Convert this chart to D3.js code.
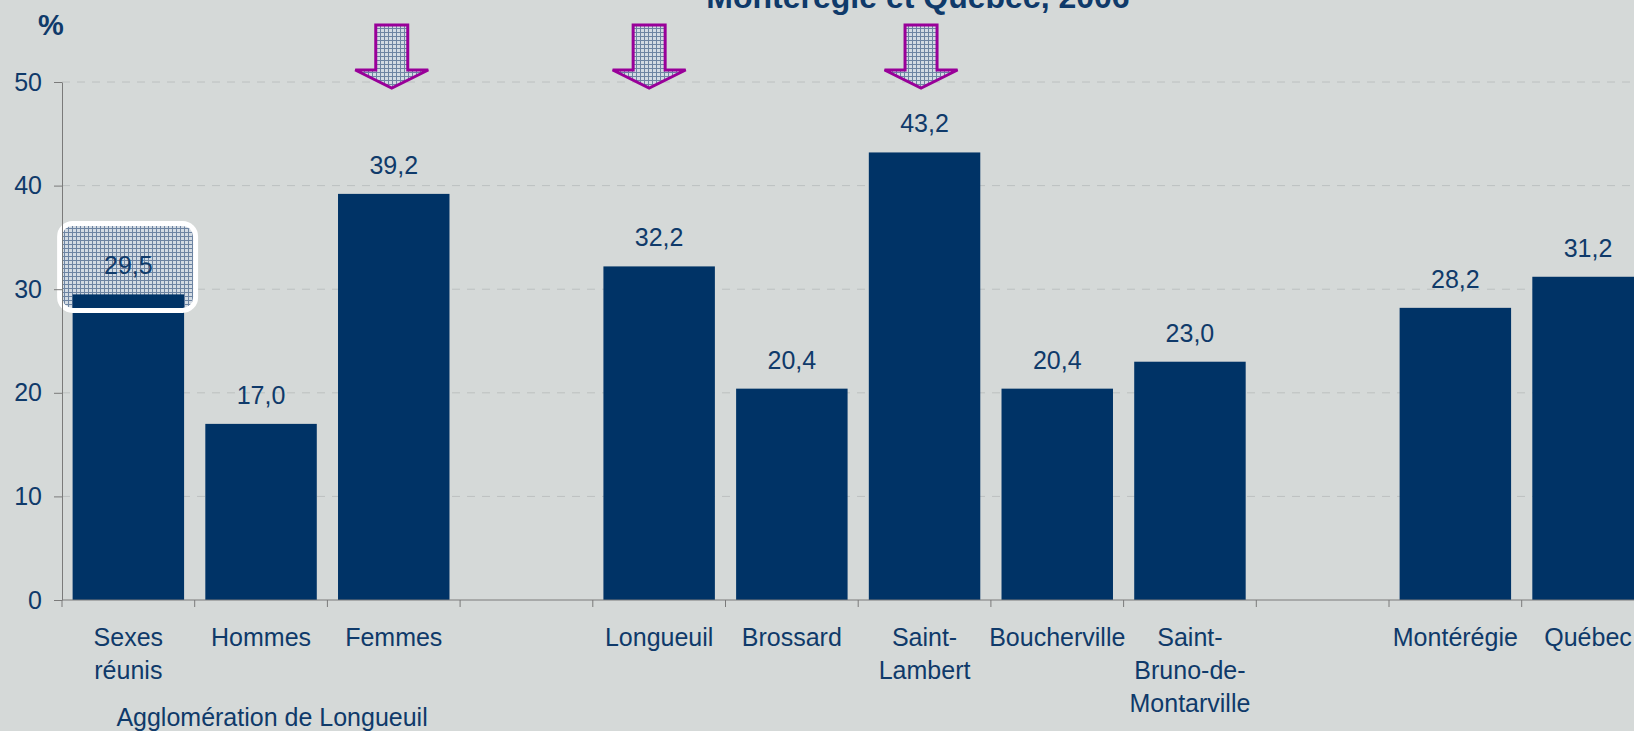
<!DOCTYPE html>
<html>
<head>
<meta charset="utf-8">
<script src="https://cdn.jsdelivr.net/npm/d3@7"></script>
<style>
  html, body { margin: 0; padding: 0; background: #d5d9d8; }
  svg { display: block; }
  text { font-family: Arial, "Liberation Sans", sans-serif; fill: #0f3a6a; }
</style>
</head>
<body>
<div id="container"></div>
<script>
// data
var categories = ["Sexes\nréunis", "Hommes", "Femmes", "", "Longueuil", "Brossard", "Saint-\nLambert",
                  "Boucherville", "Saint-\nBruno-de-\nMontarville", "", "Montérégie", "Québec"]
var values = [29.5, 17.0, 39.2, null, 32.2, 20.4, 43.2, 20.4, 23.0, null, 28.2, 31.2]
var yTicks = [0, 10, 20, 30, 40, 50]
var groupLabel = "Agglomération de Longueuil"
var titleText = "Montérégie et Québec, 2006"
var arrowTargets = [2, 4, 6]   // index of the bars with an arrow
var highlighted = 0            // bar with the rounded box

var width = 1634
var height = 731

var svg = d3.select("#container")
    .append("svg")
    .attr("width", width)
    .attr("height", height)

svg.append("rect").attr("width", width).attr("height", height).attr("fill", "#d5d9d8")

// hatch pattern for the arrows and the box
var defs = svg.append("defs")
var pat = defs.append("pattern")
    .attr("id", "hatch")
    .attr("width", 4).attr("height", 4)
    .attr("patternUnits", "userSpaceOnUse")
pat.append("rect").attr("width", 4).attr("height", 4).attr("fill", "#d3dbe3")
pat.append("rect").attr("width", 4).attr("height", 1).attr("fill", "#6d84a2")
pat.append("rect").attr("width", 1).attr("height", 4).attr("fill", "#6d84a2")

// scales
var x = d3.scaleBand()
    .domain(d3.range(categories.length))
    .range([62, 62 + 12 * 132.7])
    .paddingInner(0.16)
    .paddingOuter(0.08)

var y = d3.scaleLinear()
    .domain([0, 50])
    .range([600, 82])

var fmt = function(v) { return d3.format(".1f")(v).replace(".", ",") }

// title (only the bottom line shows)
svg.append("text")
    .attr("x", 918).attr("y", 8)
    .attr("text-anchor", "middle")
    .style("font-weight", "bold")
    .style("font-size", "32px")
    .text(titleText)

// gridlines
svg.append("g")
    .selectAll("line")
    .data(yTicks.filter(function(d) { return d > 0 }))
    .enter()
    .append("line")
    .attr("x1", 62).attr("x2", width)
    .attr("y1", function(d) { return y(d) })
    .attr("y2", function(d) { return y(d) })
    .attr("stroke", "#bcc0c0")
    .attr("stroke-width", 1)
    .attr("stroke-dasharray", "8,7")

// highlight box fill (behind the bar)
var hx = x(highlighted), hy = y(values[highlighted])
var box = {x: hx - 13, y: hy - 71, w: x.bandwidth() + 24.5, h: 87}
svg.append("rect")
    .attr("x", box.x).attr("y", box.y)
    .attr("width", box.w).attr("height", box.h)
    .attr("rx", 13).attr("ry", 13)
    .attr("fill", "url(#hatch)")

// bars
svg.append("g")
    .selectAll("rect")
    .data(values.map(function(v, i) { return {i: i, v: v} }).filter(function(d) { return d.v != null }))
    .enter()
    .append("rect")
    .attr("x", function(d) { return x(d.i) })
    .attr("y", function(d) { return y(d.v) })
    .attr("width", x.bandwidth())
    .attr("height", function(d) { return y(0) - y(d.v) })
    .attr("fill", "#003366")

// white outline of the box on top of the bar
svg.append("rect")
    .attr("x", box.x).attr("y", box.y)
    .attr("width", box.w).attr("height", box.h)
    .attr("rx", 13).attr("ry", 13)
    .attr("fill", "none")
    .attr("stroke", "#ffffff")
    .attr("stroke-width", 5)

// value labels
svg.append("g")
    .selectAll("text")
    .data(values.map(function(v, i) { return {i: i, v: v} }).filter(function(d) { return d.v != null }))
    .enter()
    .append("text")
    .attr("x", function(d) { return x(d.i) + x.bandwidth() / 2 })
    .attr("y", function(d) { return y(d.v) - 20 })
    .attr("text-anchor", "middle")
    .style("font-size", "25px")
    .text(function(d) { return fmt(d.v) })

// y axis
var yAxis = svg.append("g")
    .attr("transform", "translate(62,0)")
    .call(d3.axisLeft(y).tickValues(yTicks).tickSize(8).tickSizeOuter(0).tickPadding(12))
yAxis.select(".domain").attr("stroke", "#7a7a7a")
yAxis.selectAll(".tick line").attr("stroke", "#7a7a7a")
yAxis.selectAll(".tick text")
    .attr("fill", "#0f3a6a")
    .style("font-size", "25px")
    .style("font-family", "Arial, 'Liberation Sans', sans-serif")

svg.append("text")
    .attr("x", 38).attr("y", 35)
    .style("font-weight", "bold")
    .style("font-size", "29px")
    .text("%")

// x axis baseline and band ticks
var x0 = x.range()[0]
svg.append("line")
    .attr("x1", x0).attr("x2", width)
    .attr("y1", y(0)).attr("y2", y(0))
    .attr("stroke", "#7a7a7a")
svg.append("g")
    .selectAll("line")
    .data(d3.range(categories.length + 1))
    .enter()
    .append("line")
    .attr("x1", function(i) { return x0 + i * x.step() })
    .attr("x2", function(i) { return x0 + i * x.step() })
    .attr("y1", y(0)).attr("y2", y(0) + 7)
    .attr("stroke", "#7a7a7a")

// category labels
var cat = svg.append("g")
    .selectAll("text")
    .data(categories)
    .enter()
    .append("text")
    .attr("text-anchor", "middle")
    .style("font-size", "25px")
cat.selectAll("tspan")
    .data(function(d, i) { return d.split("\n").map(function(s) { return {s: s, i: i} }) })
    .enter()
    .append("tspan")
    .attr("x", function(d) { return x(d.i) + x.bandwidth() / 2 })
    .attr("y", function(d, k) { return 646 + k * 33 })
    .text(function(d) { return d.s })

svg.append("text")
    .attr("x", x(1) + x.bandwidth() / 2 + 11)
    .attr("y", 726)
    .attr("text-anchor", "middle")
    .style("font-size", "25px")
    .text(groupLabel)

// arrows pointing at bars
var nudge = [-2, -10, -3.5]
svg.append("g")
    .selectAll("path")
    .data(arrowTargets)
    .enter()
    .append("path")
    .attr("d", function(i, k) {
        var cx = x(i) + x.bandwidth() / 2 + nudge[k]
        var p = d3.path()
        p.moveTo(cx - 16, 25)
        p.lineTo(cx + 16, 25)
        p.lineTo(cx + 16, 70)
        p.lineTo(cx + 36.5, 70)
        p.lineTo(cx, 88)
        p.lineTo(cx - 36.5, 70)
        p.lineTo(cx - 16, 70)
        p.closePath()
        return p.toString()
    })
    .attr("fill", "url(#hatch)")
    .attr("stroke", "#990099")
    .attr("stroke-width", 3)
</script>
</body>
</html>
